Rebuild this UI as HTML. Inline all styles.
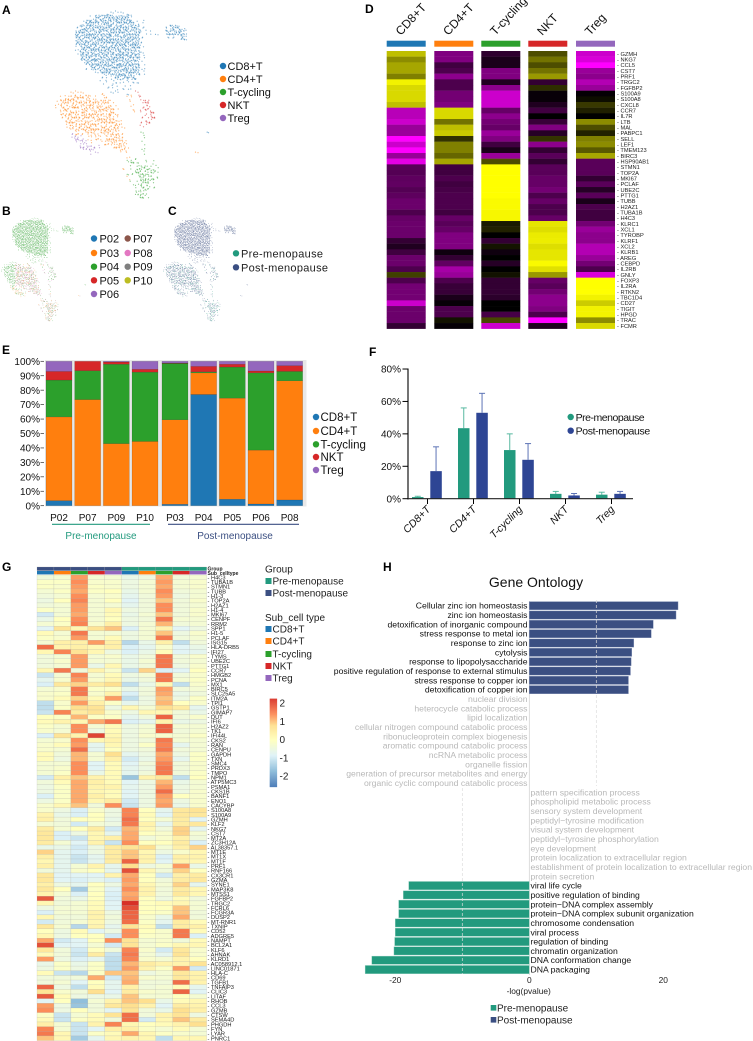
<!DOCTYPE html>
<html lang="en">
<head>
<meta charset="utf-8">
<title>T cell atlas figure</title>
<style>
html,body{margin:0;padding:0;background:#fff;}
body{width:753px;height:1041px;overflow:hidden;}
svg{display:block;font-family:"Liberation Sans",Arial,sans-serif;filter:blur(.3px);}
.pl{font-size:12px;font-weight:bold;fill:#000;}
</style>
</head>
<body>
<svg id="fig" xmlns="http://www.w3.org/2000/svg" width="753" height="1041" viewBox="0 0 753 1041">
<rect width="753" height="1041" fill="#fff"/>

<text class="pl" x="2" y="14">A</text>
<text class="pl" x="2" y="215">B</text>
<text class="pl" x="168" y="215">C</text>
<text class="pl" x="365" y="13">D</text>
<text class="pl" x="2" y="354">E</text>
<text class="pl" x="369" y="356">F</text>
<text class="pl" x="2" y="571">G</text>
<text class="pl" x="383" y="571">H</text>

<g id="umapA"></g>
<g id="umapB"></g>
<g id="umapC"></g>

<g font-size="11" fill="#111">
<g><circle cx="223" cy="66" r="3.2" fill="#1f77b4"/><text x="227.5" y="70">CD8+T</text></g>
<g><circle cx="223" cy="79" r="3.2" fill="#ff7f0e"/><text x="227.5" y="83">CD4+T</text></g>
<g><circle cx="223" cy="92" r="3.2" fill="#2ca02c"/><text x="227.5" y="96">T-cycling</text></g>
<g><circle cx="223" cy="105" r="3.2" fill="#d62728"/><text x="227.5" y="109">NKT</text></g>
<g><circle cx="223" cy="118" r="3.2" fill="#9467bd"/><text x="227.5" y="122">Treg</text></g>
</g>

<g font-size="11" fill="#111">
<g><circle cx="94" cy="238.5" r="3.2" fill="#1f77b4"/><text x="99.5" y="242.5">P02</text></g>
<g><circle cx="94" cy="253" r="3.2" fill="#ff7f0e"/><text x="99.5" y="257">P03</text></g>
<g><circle cx="94" cy="266.7" r="3.2" fill="#2ca02c"/><text x="99.5" y="270.7">P04</text></g>
<g><circle cx="94" cy="280.3" r="3.2" fill="#d62728"/><text x="99.5" y="284.3">P05</text></g>
<g><circle cx="94" cy="294" r="3.2" fill="#9467bd"/><text x="99.5" y="298">P06</text></g>
<g><circle cx="127.7" cy="238.5" r="3.2" fill="#8c564b"/><text x="133" y="242.5">P07</text></g>
<g><circle cx="127.7" cy="253" r="3.2" fill="#e377c2"/><text x="133" y="257">P08</text></g>
<g><circle cx="127.7" cy="266.7" r="3.2" fill="#7f7f7f"/><text x="133" y="270.7">P09</text></g>
<g><circle cx="127.7" cy="280.3" r="3.2" fill="#bcbd22"/><text x="133" y="284.3">P10</text></g>
</g>

<g font-size="11" fill="#222">
<g><circle cx="236" cy="253.3" r="3.2" fill="#229a7e"/><text x="241" y="257.3" textLength="82">Pre-menopause</text></g>
<g><circle cx="236" cy="267.3" r="3.2" fill="#3b4f82"/><text x="241" y="271.3" textLength="87">Post-menopause</text></g>
</g>

<g id="heatD"></g>
<g id="stackE"></g>

<g font-size="11.5" fill="#111">
<g><circle cx="316" cy="417" r="3.2" fill="#1f77b4"/><text x="320.5" y="421">CD8+T</text></g>
<g><circle cx="316" cy="431" r="3.2" fill="#ff7f0e"/><text x="320.5" y="435">CD4+T</text></g>
<g><circle cx="316" cy="444.3" r="3.2" fill="#2ca02c"/><text x="320.5" y="448.3">T-cycling</text></g>
<g><circle cx="316" cy="457" r="3.2" fill="#d62728"/><text x="320.5" y="461">NKT</text></g>
<g><circle cx="316" cy="470" r="3.2" fill="#9467bd"/><text x="320.5" y="474">Treg</text></g>
</g>

<line x1="52" y1="524.3" x2="150" y2="524.3" stroke="#229a7e" stroke-width="1.2"/>
<line x1="168" y1="524.3" x2="299" y2="524.3" stroke="#3b4f82" stroke-width="1.2"/>
<text x="101" y="539" text-anchor="middle" font-size="10" fill="#229a7e">Pre-menopause</text>
<text x="235" y="539" text-anchor="middle" font-size="10" fill="#3b4f82">Post-menopause</text>

<g id="barF"></g>

<g font-size="10.5" fill="#111">
<g><circle cx="570.7" cy="417" r="3.2" fill="#229a7e"/><text x="575.6" y="421" textLength="69">Pre-menopause</text></g>
<g><circle cx="570.7" cy="430.7" r="3.2" fill="#2e4594"/><text x="575.6" y="434.7" textLength="74.6">Post-menopause</text></g>
</g>

<g id="heatG"></g>

<g font-size="10" fill="#222">
<text x="265" y="572.5">Group</text>
<g><rect x="265.5" y="578" width="6" height="6" fill="#229a7e"/><text x="272.5" y="584.5">Pre-menopause</text></g>
<g><rect x="265.5" y="590" width="6" height="6" fill="#3b4f82"/><text x="272.5" y="596.5">Post-menopause</text></g>
<text x="265" y="621">Sub_cell type</text>
<g><rect x="265.5" y="626" width="6" height="6" fill="#1f77b4"/><text x="272.5" y="632.5">CD8+T</text></g>
<g><rect x="265.5" y="638" width="6" height="6" fill="#ff7f0e"/><text x="272.5" y="644.5">CD4+T</text></g>
<g><rect x="265.5" y="651" width="6" height="6" fill="#2ca02c"/><text x="272.5" y="657.5">T-cycling</text></g>
<g><rect x="265.5" y="663" width="6" height="6" fill="#d62728"/><text x="272.5" y="669.5">NKT</text></g>
<g><rect x="265.5" y="675" width="6" height="6" fill="#9467bd"/><text x="272.5" y="681.5">Treg</text></g>
</g>
<g id="colorbar"></g>

<g id="goChart">
<text x="536" y="587" text-anchor="middle" font-size="14" fill="#111">Gene Ontology</text>
</g>
<g font-size="10" fill="#222">
<g><rect x="490.7" y="1005" width="5.6" height="5.6" fill="#229a7e"/><text x="497" y="1011.5">Pre-menopause</text></g>
<g><rect x="490.7" y="1017" width="5.6" height="5.6" fill="#3b4f82"/><text x="497" y="1023.5">Post-menopause</text></g>
</g>
</svg>

<script>
/* ---------- UMAP density: one char per cell.
   Upper case = dense, lower case = sparse. b=CD8 o=CD4 g=T-cycling r=NKT p=Treg */
const umapDensityRows = [
"..........bbbbb............",
".......bBBBBBBBb...........",
".....bBBBBBBBBBBbb.........",
"....bBBBBBBBBBBBBb....bBBb.",
"....BBBBBBBBBBBBBbbbb.BBBBb",
"....BBBBBBBBBBBBBb....bb.Bb",
"....BBBBBBBBBBBBBb.........",
"....bBBBBBBBBBBBBb.........",
"....bBBBBBBBBBBBBb.........",
".....BBBBBBBBBBBBb.........",
".....bBBBBBBBBBBBb.........",
"......bBBBBBBBBBBb.........",
"........bBBBBBBBBb.........",
".........bbbBBBBb..........",
".........bbbbbbbb..........",
"..........bbbbbb...........",
"...ooo...o.bb.b.r..........",
".oOOOOOoooo...oorr.........",
"oOOOOOOOOOOo...o.rR........",
"oOOOOOOOOOOOo..o.rR........",
".OOOOOOOOOOOo..o.rrR.......",
".oOOOOOOOOOOo....rrR.......",
"..OOOOOOOOOOOo...rR........",
"..oOOOOOOOOOOo...r.........",
"...pOoOOoOOOOo...g............b",
"...pPpooOoOOOo...g.........",
"....pPpo.oOOOOo..g.........",
".....PPPp..oOOo..g.........",
".......pp....oo..g..........o",
"..............o.g..........",
"..............gGg.gg.......",
".............o.gGGGgg......",
"..............ggGGGGg......",
"..............o.gGGGg......",
"...............ggGGg.......",
"................gGGg.......",
"................GGg........",
".................Gg........"
];
const clusterColors = {b:"#1f77b4",o:"#ff7f0e",g:"#2ca02c",r:"#d62728",p:"#9467bd"};
const denseCounts = {b:10,o:7,g:6,r:7,p:7};
const patientMix = {b:["#2ca02c"],o:["#e377c2","#2ca02c","#ff7f0e","#8c564b","#2ca02c","#e377c2"],g:["#ff7f0e","#7f7f7f","#8c564b","#2ca02c"],r:["#2ca02c","#2ca02c","#e377c2"],p:["#2ca02c","#ff7f0e"]};
const menopauseMix = {b:["#3b4f82"],o:["#3b4f82","#3b4f82","#229a7e","#3b4f82"],g:["#3b4f82","#229a7e"],r:["#3b4f82","#3b4f82","#229a7e"],p:["#3b4f82","#3b4f82","#3b4f82","#229a7e"]};

/* ---------- Panel D marker heatmap ---------- */
const dGenes = ["GZMH","NKG7","CCL5","CST7","PRF1","TRGC2","FGFBP2","S100A9","S100A8","CXCL8","CCR7","IL7R","LTB","MAL","PABPC1","SELL","LEF1","TMEM123","BIRC3","HSP90AB1","STMN1","TOP2A","MKI67","PCLAF","UBE2C","PTTG1","TUBB","H2AZ1","TUBA1B","H4C3","KLRC1","XCL1","TYROBP","KLRF1","XCL2","KLRB1","AREG","CEBPD","IL2RB","GNLY","FOXP3","IL2RA","RTKN2","TBC1D4","CD27","TIGIT","HPGD","TRAC","FCMR"];
const dCd8 = [.75,.55,.65,.65,.5,.95,.85,.85,.85,.75,-.72,-.72,-.8,-.6,-.6,-1,-.8,-1,-.6,-.9,-.35,-.33,-.37,-.38,-.33,-.37,-.42,-.42,-.3,-.4,-.42,-.42,-.42,-.2,-.12,-.25,-.42,-.42,-.3,.25,-.3,-.45,-.45,-.45,-.8,-.42,-.42,-.42,-.2];
const dCd4 = [-.5,-.5,-.25,-.3,-.55,-.3,-.3,-.45,-.45,-.5,.85,.85,.45,.75,.8,.2,.5,.5,.4,.65,-.25,-.25,-.3,-.25,-.28,-.3,-.3,-.3,-.25,-.4,-.35,-.4,-.5,-.5,-.5,-.06,-.2,-.38,-.65,-.6,-.3,-.22,-.22,-.1,-.03,-.3,-.3,.07,-.02];
const dCyc = [-.18,-.1,-.1,-.5,-.5,-.12,-.55,-.8,-.8,-.8,-.4,-.55,-.45,-.4,-.6,-.5,-.25,-.1,-.6,.3,1,1,1,1,1,1,.98,.98,.97,.97,.1,.13,0,-.2,.08,-.06,0,-.15,0,.07,-.2,-.2,-.2,-.17,0,0,-.28,.28,-.8];
const dNkt = [.3,.45,.3,.45,.6,-.2,.18,-.03,-.03,-.12,-.25,0,-.22,-.5,-.15,.2,-.55,-.2,-.35,-.2,-.35,-.35,-.4,-.4,-.45,-.3,-.4,-.3,-.3,-.4,.9,.87,.92,.93,.87,.9,.9,.98,.88,.6,-.4,-.35,-.45,-.55,-.55,-.5,-.3,-1,-.12];
const dTreg = [-.8,-.85,-1,-.6,-.55,-.7,-.6,-.02,.05,.22,.12,0,.55,.3,.13,.5,.55,.35,.65,-.35,-.35,-.35,-.2,-.35,-.15,-.35,-.1,-.3,-.25,-.25,-.45,-.6,-.55,-.55,-.7,-.7,-.6,-.45,-.3,-.85,1,1,1,.95,.8,.95,.95,.55,.85];
const dCellTypes = ["CD8+T","CD4+T","T-cycling","NKT","Treg"];
const cellTypeColors = ["#1f77b4","#ff7f0e","#2ca02c","#d62728","#9467bd"];

/* ---------- Panel E composition (percent, bottom to top) ---------- */
const ePatients = ["P02","P07","P09","P10","P03","P04","P05","P06","P08"];
const eCd8 = [3.5,0,0,0,1,77,4.5,1.2,4];
const eCd4 = [58,73.5,43,44.5,58.5,15,70,37.3,82.5];
const eCyc = [25.5,20,55,48,39,.7,21.5,53.5,6.5];
const eNkt = [6,6.5,1.5,2,.3,3.8,2,1.3,4];
const eTreg = [7,0,.5,5.5,1.2,3.5,2,6.7,3];
const eTicks = ["0%","10%","20%","30%","40%","50%","60%","70%","80%","90%","100%"];
const eTickValues = [0,10,20,30,40,50,60,70,80,90,100];

/* ---------- Panel F proportions ---------- */
const fCategories = ["CD8+T","CD4+T","T-cycling","NKT","Treg"];
const fPre = [1,43.5,30,3,2.5];
const fPost = [17,53,24,2,3];
const fPreErrTop = [1.5,56,40,4.5,4];
const fPostErrTop = [32,65,34,3.2,4.5];
const fTickValues = [0,20,40,60,80];
const fTicks = ["0%","20%","40%","60%","80%"];

/* ---------- Panel G heatmap ---------- */
const gColumnGroups = ["post","post","post","post","post","pre","pre","pre","pre","pre"];
const gColumnTypes = [0,1,2,3,4,0,1,2,3,4];
const gGenes = ["H4C3","TUBA1B","STMN1","TUBB","H1-3","TOP2A","H2AZ1","H1-4","MKI67","CENPF","RRM2","SPP1","H1-5","PCLAF","ISG15","HLA-DRB5","IFI27","TYMS","UBE2C","PTTG1","CCR7","HMGB2","PCNA","MX1","BIRC5","SLC25A5","ITM2A","TPI1","GSTP1","GIMAP7","DUT","IFI6","H2AZ2","TK1","IFI44L","CKS2","RAN","CENPU","GAPDH","TXN","SMC4","PRDX3","TMPO","NPM1","ATP5MC3","PSMA1","CKS1B","BANF1","ENO1","CACYBP","S100A8","S100A9","GZMH","KLF2","NKG7","CST7","MT2A","ZC3H12A","AL38357.1","MT1E","MT1X","MT1F","PRF1","RNF166","CX3CR1","GZMA","SYNE1","MAP3K8","MTSS1","FGFBP2","TRGC2","FCRL6","FCGR3A","DUSP2","MT-RNR1","TXNIP","CD52","ADGRE5","NAMPT","BCL2A1","KLF6","AHNAK","KLRD1","AC058912.1","LINC01871","HLA-C","CD69","TGFB1","TNFAIP3","CLIC3","LITAF","RHOB","CCL3","GZMB","CTSW","SEMA4D","PHGDH","FYN","LYAR","PNRC1"];
const gValues = [
[-.4,-.3,1.3,-.3,-.3,-.6,-.5,1.2,-.4,-.3],
[-.1,-.1,1.4,-.2,-.2,-.5,-.3,1.3,-.3,-.2],
[-.1,-.2,1.3,-.1,-.2,-.5,-.3,1.2,-.3,-.2],
[-.3,-.1,1.2,-.1,.0,-.6,-.3,1.4,-.4,-.3],
[-.4,-.3,1.4,-.3,-.2,-.7,-.4,1.3,-.5,-.3],
[-.5,.0,1.5,-.3,.0,-.8,-.4,1.0,-.4,-.2],
[-.4,-.3,1.3,-.3,-.3,-.7,-.4,1.4,-.4,-.3],
[-.1,-.3,1.3,-.3,.2,-.5,-.4,1.4,-.4,-.2],
[-1,-.3,1.2,-.3,.1,-.6,-.3,1.0,-.4,-.2],
[-.6,.0,1.4,-.3,0,-.5,-.4,1.6,-.3,-.3],
[-.3,-.1,1.5,-.2,.4,-.5,-.3,1.1,-.4,-.3],
[-.8,.7,.2,.7,1,-.9,-.3,.3,-.8,-.5],
[.1,-.3,1.6,-.3,-.3,-.5,-.3,1.0,-.5,-.2],
[-.1,-.2,1.3,-.3,.1,-.5,-.3,1.6,-.4,-.3],
[-.3,.4,.4,1.3,.4,-1.3,-.6,.4,-1.2,-.4],
[1.7,.3,.4,.2,.4,-.9,-.7,-.2,-.8,-.6],
[.2,1.5,.7,.2,-.5,-.9,-.6,.1,-.8,-.7],
[-.4,-.3,1.3,-.3,-.2,-.6,-.4,1.6,-.4,-.2],
[-.4,-.2,1.3,-.3,-.3,-.6,-.3,1.6,-.4,-.3],
[-.4,-.3,1.3,-.6,.2,-.6,-.4,1.6,-.5,-.2],
[.2,1.6,-.4,.3,-.2,-1.1,.9,-.9,-.8,.0],
[-1.1,-.3,1.5,-.3,.1,-.5,-.3,1.6,-.4,-.2],
[-.7,-.2,1.3,-.2,.2,-.6,-.4,1.6,-.3,-.1],
[-.9,.6,.9,.5,.8,-1.2,-.6,.2,-1.2,-.2],
[-.3,-.2,1.6,-.1,-.1,-.6,-.4,1.3,-.4,-.3],
[-.2,-.1,1.6,-.2,.3,-.9,-.4,1.2,-.6,-.4],
[-.2,.1,.9,.1,1.3,-1.2,-.5,1,-.5,-.1],
[-1.2,-.2,1.3,.4,-.1,-.7,-.5,1.1,0,-.2],
[-1.2,-.1,.8,.7,-.5,.2,-.3,.8,.5,-.7],
[-1.1,1.5,.5,.7,-.2,-.5,.2,.2,-.4,-.6],
[.0,-.1,1.1,-.1,-.1,-.7,-.4,1.8,-.4,-.2],
[.1,.3,.2,1.2,1.6,-.9,-.7,.3,-.6,-.5],
[-.1,-.3,1.4,-.3,.1,-.5,-.3,1.8,-.3,-.3],
[-.2,-.3,1.4,-.5,.1,-.5,-.3,1.8,-.4,-.3],
[-.9,.7,.3,2.1,.2,-.5,-.2,-.2,-.3,-.1],
[-.3,-.2,1.4,.2,.3,-.5,-.4,1.6,-.3,-.3],
[-.2,.1,1.3,-.7,.2,-.5,-.1,1.5,-.7,-.3],
[-.2,-.3,1.7,-.7,.0,-.5,-.4,1.6,-.4,-.3],
[.1,-.4,1.1,-.3,.8,-.7,-.5,1.2,-.5,-.1],
[.1,-.5,1.1,-.3,.4,-1,-.6,1.3,-.7,-.1],
[-.3,-.3,1.4,-.8,.1,-.8,-.4,1.5,-.4,-.2],
[-.3,-.2,1.4,-.8,.1,-.7,-.5,1.6,-.4,-.2],
[-.3,-.1,1.4,-.6,.1,-.7,-.4,1.6,-.4,-.1],
[-1,.4,1.0,.3,.1,-1.6,.3,.6,-1.2,.0],
[-.4,.1,1.2,.4,.1,-.8,-.5,1.1,-.6,-.3],
[-.5,-.1,1.2,.3,.3,-.7,-.5,1.3,-.5,-.3],
[-.5,-.1,1.2,.2,.1,-.8,-.5,1.7,-.5,-.2],
[-.9,-.1,1.2,.4,.1,-.8,-.5,1.3,.0,-.2],
[-.5,-.1,1.2,.2,.5,-1,-.5,1.2,-.5,-.2],
[-.2,.2,1.0,-.4,1.4,-1.1,-.5,1.3,-.6,-.2],
[-.2,-.5,-.9,-.2,-.5,1.5,.0,-.7,.6,.7],
[.3,-.6,-.9,.0,-.5,1.5,.1,-.8,.6,.6],
[.4,-.4,.0,.0,-.6,1.7,.0,-.3,.5,-.8],
[-.3,-.4,-1,-.3,-.5,1.6,.3,-.7,.5,.6],
[.5,-.3,.0,.5,-1.0,1.1,.2,-.4,.9,-.7],
[.6,-.9,-.5,.2,-.7,1.2,.0,-.2,.9,-.3],
[.6,-.9,-1.1,.2,.4,1.2,-.4,-.2,.4,-.4],
[.5,-.3,-.8,.3,-1.1,1.4,.0,0,.5,-.9],
[-.6,-.6,-1,-.5,.5,.7,.8,-.3,.4,.9],
[.9,-.7,-.9,-.5,.5,1.0,.2,-.5,-.2,.2],
[.4,-.7,-1.1,-.7,.5,1.0,.3,-.9,.4,.3],
[.2,-.7,-1.1,-.7,.5,1.8,.3,-.8,.3,.2],
[.4,-.7,-.3,.3,-.7,.8,-.5,-.3,1.3,-.6],
[-.4,-.7,-.2,.0,-.7,2.0,.2,-.4,.9,.0],
[.6,-.8,-.8,-.8,.3,1.2,.0,-1,.4,.5],
[.6,-.8,-.9,-.7,-.9,1.3,.0,-.4,.5,.6],
[.4,-.5,-.7,.0,-.5,1.2,.2,-.3,.9,-.7],
[.6,.0,-1.5,-.1,-.8,1.4,.3,-.4,.5,.2],
[.3,-.3,-.9,.0,-.9,1.2,.3,-.4,.6,.2],
[1.9,-.4,-.6,.0,-.9,1.3,.0,-.5,.1,-.4],
[.2,-.4,-.3,.1,-.8,2.3,.0,.1,.2,-.3],
[-.5,-.3,-.3,.1,-.8,2.0,.0,.0,1.0,-.3],
[-.9,-.3,-.3,.3,-.5,1.8,.0,-.1,1.0,-.4],
[.2,-.4,-.4,.3,-.4,1.8,-.2,-.6,1.2,-.4],
[-1.0,-.4,-.3,.2,-.5,1.7,-.1,-.7,.5,.1],
[.6,-.3,-1.3,.3,-.7,.7,.1,-1.2,.5,.4],
[.0,-.5,.1,-.8,-.5,1.4,.0,-.2,1.6,.1],
[.2,-.5,.0,.0,-1.0,1.4,-.1,-.2,1.6,-.9],
[1.2,-1.0,-.8,.0,1.4,.7,-.3,-.2,-.4,.1],
[2.0,-.8,-.8,-.3,-1.0,.7,-.3,-.1,.2,.2],
[.6,-.4,-1,.0,-.4,1.5,-.2,-1,.6,-.2],
[.1,-.4,-1.1,.5,-1.1,1.6,-.3,-.7,.7,-.2],
[1.3,-.5,-.9,-.7,-1.2,1.5,-.2,-.3,.3,.0],
[-.6,-.1,-.6,-.1,-1.2,1.1,.5,.3,.3,.7],
[-.5,-.1,-.5,-.1,-1.2,1.3,.3,-.1,1.3,-1],
[.1,-1.1,-1.3,-.1,1.0,1.0,-.5,-.3,.6,.3],
[-.4,-.4,-.4,1.2,-1,1.1,-.2,-.3,.6,.3],
[-.4,-.3,-.8,.0,-.7,1.2,-.4,-.4,1.7,.3],
[1.8,-.5,-1.2,.1,-.7,.4,-.4,-.3,.1,-.7],
[.7,-.2,-.4,.8,-.8,.5,-.2,-.3,1.8,-.8],
[1.9,.1,-.5,-.5,-.6,1.0,-.3,-.3,0,-.3],
[-.8,.0,-1.7,-.3,.3,1.0,.8,-.6,.1,.2],
[1.3,-.5,-1.6,-.4,.6,.8,.3,-.8,.5,.3],
[1.4,-.5,.0,-.4,-.8,.7,-.4,-.6,.8,.4],
[-.1,-1.1,-.3,.1,.7,1.7,-.4,.3,.7,-.5],
[.1,-1.1,-.1,.1,-.4,1.7,-1,.2,1.0,.5],
[.4,-.3,-1.1,.3,1.5,.2,.0,.1,.3,.8],
[1.5,-.3,-1.1,-.8,.4,.4,-.1,-.3,.1,-.3],
[1.6,.2,-1.1,-.1,.1,1.2,.2,-.1,-.2,-.3],
[1.0,.2,-1.5,-.7,.2,.3,.2,-1.2,.2,.2]
];
const colorStopValues = [-2.7,-1.7,-.85,0,.8,1.4,2.3];
const colorStopHex = ["#4575b4","#91bfdb","#e0f3f8","#ffffbf","#fee090","#fc8d59","#d73027"];
const colorbarTicks = [2,1,0,-1,-2];

/* ---------- Panel H gene ontology ---------- */
const goPostTerms = ["Cellular zinc ion homeostasis","zinc ion homeostasis","detoxification of inorganic compound","stress response to metal ion","response to zinc ion","cytolysis","response to lipopolysaccharide","positive regulation of response to external stimulus","stress response to copper ion","detoxification of copper ion"];
const goPostValues = [22.2,21.9,18.5,18.2,15.6,15.3,15.2,15.1,14.8,14.8];
const goGreyLeftTerms = ["nuclear division","heterocycle catabolic process","lipid localization","cellular nitrogen compound catabolic process","ribonucleoprotein complex biogenesis","aromatic compound catabolic process","ncRNA metabolic process","organelle fission","generation of precursor metabolites and energy","organic cyclic compound catabolic process"];
const goGreyRightTerms = ["pattern specification process","phospholipid metabolic process","sensory system development","peptidyl\u2212tyrosine modification","visual system development","peptidyl\u2212tyrosine phosphorylation","eye development","protein localization to extracellular region","establishment of protein localization to extracellular region","protein secretion"];
const goPreTerms = ["viral life cycle","positive regulation of binding","protein\u2212DNA complex assembly","protein\u2212DNA complex subunit organization","chromosome condensation","viral process","regulation of binding","chromatin organization","DNA conformation change","DNA packaging"];
const goPreValues = [18,18.8,19.5,19.5,20,20,20.1,20.2,23.5,24.5];
const goAxisTicks = [-20,0,20];

/* ---------- helpers ---------- */
const NS = "http://www.w3.org/2000/svg";
function mk(parent, tag, attrs) {
  const el = document.createElementNS(NS, tag);
  for (const k in attrs) el.setAttribute(k, attrs[k]);
  parent.appendChild(el);
  return el;
}
function label(parent, x, y, str, attrs) {
  const el = mk(parent, "text", Object.assign({x: x, y: y}, attrs || {}));
  el.textContent = str;
  return el;
}

/* ---------- UMAP panels ---------- */
const subX = [.5,3.5,2,4.5,1,3,.2,2.6,4,1.5,3.8,.8,2.2,4.7,1.2,3.2];
const subY = [1,3.7,.4,2.2,4.4,1.8,2.9,4.8,.2,3,1.2,4,2.1,4.2,.7,2.7];
function drawUmap(group, sx, ox, sy, oy, r, opacity, colorFor) {
  umapDensityRows.forEach(function (row, ri) {
    for (let ci = 0; ci < row.length; ci++) {
      const ch = row[ci];
      if (ch === ".") continue;
      const key = ch.toLowerCase();
      const count = ch === key ? 2 : denseCounts[key];
      for (let k = 0; k < count; k++) {
        const idx = (k * 5 + ri * ri * 3 + ci * ci * 7 + ri * ci) % 16;
        const jdx = (k * 3 + ci * ci + ri * 5 + ri * ri * ci) % 16;
        const ux = 55 + ci * 5 + subX[idx];
        const uy = 10 + ri * 5 + subY[jdx];
        const el = mk(group, "circle", {cx: (ux * sx + ox).toFixed(2), cy: (uy * sy + oy).toFixed(2), r: r, fill: colorFor(key, ci, ri, k), opacity: opacity});
        
        
      }
    }
  });
}
drawUmap(document.getElementById("umapA"), 1, 0, 1, 0, .6, .58, function (key) { return clusterColors[key]; });
drawUmap(document.getElementById("umapB"), .55, -29, .55, 212, .38, .5, function (key, ci, ri, k) {
  if (key === "o" && ci < 5) return "#2ca02c";
  const pal = patientMix[key];
  return pal[(k + ri + ci) % pal.length];
});
drawUmap(document.getElementById("umapC"), .55, 133, .55, 212, .38, .55, function (key, ci, ri, k) {
  const pal = menopauseMix[key];
  return pal[(k + ri * 2 + ci) % pal.length];
});

/* ---------- Panel D ---------- */
(function () {
  const g = document.getElementById("heatD");
  const columns = [dCd8, dCd4, dCyc, dNkt, dTreg];
  const colX = [386.7, 434.3, 481.3, 528.3, 576];
  const colW = 39;
  const top = 51, rowH = (328.7 - 51) / dGenes.length;
  function purpleYellow(v) {
    const a = Math.round(Math.min(1, Math.abs(v)) * 255);
    return v >= 0 ? "rgb(" + a + "," + a + ",0)" : "rgb(" + a + ",0," + a + ")";
  }
  columns.forEach(function (vals, c) {
    const bar = mk(g, "rect", {x: colX[c], y: 40.7, width: colW, height: 6, fill: cellTypeColors[c]});
    
    
    const head = label(g, colX[c] + 14, 36, dCellTypes[c], {"font-size": 12, fill: "#111", transform: "rotate(-47 " + (colX[c] + 14) + " 36)"});
    
    
    vals.forEach(function (v, r) {
      const cell = mk(g, "rect", {x: colX[c], y: (top + r * rowH).toFixed(2), width: colW, height: (rowH + .2).toFixed(2), fill: purpleYellow(v)});
      
      
    });
  });
  dGenes.forEach(function (name, r) {
    const t = label(g, 617, (top + (r + .5) * rowH + 2).toFixed(2), "- " + name, {"font-size": 5.7, fill: "#222"});
    
    
  });
})();

/* ---------- Panel E ---------- */
(function () {
  const g = document.getElementById("stackE");
  const yE = function (v) { return 505.7 - v * 1.444; };
  const barX = function (i) { return 46 + i * 28.67 + (i > 3 ? 1.3 : 0); };
  const barW = 26;
  const bg = mk(g, "rect", {x: 45, y: 360, width: 261.5, height: 146.5, fill: "#e8e8e8"});
  
  
  const series = [eCd8, eCd4, eCyc, eNkt, eTreg];
  ePatients.forEach(function (p, i) {
    let base = 0;
    series.forEach(function (vals, s) {
      const v = vals[i];
      if (v > 0) {
        const seg = mk(g, "rect", {x: barX(i).toFixed(2), y: yE(base + v).toFixed(2), width: barW, height: (v * 1.444).toFixed(2), fill: cellTypeColors[s], stroke: "rgba(0,0,0,.28)", "stroke-width": .4});
        
        
      }
      base += v;
    });
    const t = label(g, (barX(i) + barW / 2).toFixed(2), 521, p, {"font-size": 10, "text-anchor": "middle", fill: "#111"});
    
    
  });
  eTickValues.forEach(function (v, i) {
    const y = yE(v);
    const t = label(g, 40, (y + 3.6).toFixed(2), eTicks[i], {"font-size": 10, "text-anchor": "end", fill: "#111"});
    
    
    const tick = mk(g, "line", {x1: 40.5, x2: 44, y1: y.toFixed(2), y2: y.toFixed(2), stroke: "#333", "stroke-width": .7});
    
    
  });
})();

/* ---------- Panel F ---------- */
(function () {
  const g = document.getElementById("barF");
  const yF = function (v) { return 498.7 - v * 1.621; };
  const xPre = function (i) { return 412 + i * 46; };
  const xPost = function (i) { return 430.3 + i * 46; };
  const bw = 11.5;
  function bars(vals, tops, xf, fill, err) {
    vals.forEach(function (v, i) {
      const cx = xf(i) + bw / 2;
      const stem = mk(g, "line", {x1: cx, x2: cx, y1: yF(tops[i]).toFixed(2), y2: yF(v).toFixed(2), stroke: err, "stroke-width": 1});
      
      
      const cap = mk(g, "line", {x1: cx - 3, x2: cx + 3, y1: yF(tops[i]).toFixed(2), y2: yF(tops[i]).toFixed(2), stroke: err, "stroke-width": 1});
      
      
      const b = mk(g, "rect", {x: xf(i).toFixed(2), y: yF(v).toFixed(2), width: bw, height: (v * 1.621).toFixed(2), fill: fill});
      
      
    });
  }
  bars(fPre, fPreErrTop, xPre, "#229a7e", "#58b9a1");
  bars(fPost, fPostErrTop, xPost, "#2e4594", "#5d74b6");
  const yAxis = mk(g, "line", {x1: 408, x2: 408, y1: 368.5, y2: 499.5, stroke: "#000", "stroke-width": 1.1});
  
  
  const xAxis = mk(g, "line", {x1: 408, x2: 633, y1: 498.7, y2: 498.7, stroke: "#222", "stroke-width": 1.2});
  
  
  fTickValues.forEach(function (v, i) {
    const y = yF(v);
    const tick = mk(g, "line", {x1: 402.5, x2: 408, y1: y.toFixed(2), y2: y.toFixed(2), stroke: "#000", "stroke-width": 1});
    
    
    const t = label(g, 401, (y + 3.6).toFixed(2), fTicks[i], {"font-size": 10, "text-anchor": "end", fill: "#111"});
    
    
  });
  fCategories.forEach(function (c, i) {
    const x = 427.5 + i * 46;
    const tick = mk(g, "line", {x1: x, x2: x, y1: 498.7, y2: 504, stroke: "#000", "stroke-width": 1});
    
    
    const lx = x + 3.5, ly = 510;
    const t = label(g, lx, ly, c, {"font-size": 10.5, "font-style": "italic", "text-anchor": "end", fill: "#111", transform: "rotate(-45 " + lx + " " + ly + ")"});
    
    
  });
})();

/* ---------- Panel G ---------- */
function heatColor(v) {
  const vs = colorStopValues, cs = colorStopHex;
  if (v <= vs[0]) return cs[0];
  for (let i = 1; i < vs.length; i++) {
    if (v <= vs[i]) {
      const t = (v - vs[i - 1]) / (vs[i] - vs[i - 1]);
      const a = parseInt(cs[i - 1].slice(1), 16), b = parseInt(cs[i].slice(1), 16);
      const mix = function (sh) {
        const p = (a >> sh) & 255, q = (b >> sh) & 255;
        return Math.round(p + (q - p) * t);
      };
      return "rgb(" + mix(16) + "," + mix(8) + "," + mix(0) + ")";
    }
  }
  return cs[cs.length - 1];
}
(function () {
  const g = document.getElementById("heatG");
  const x0 = 37, cw = 16.96, top = 575, rowH = (1040.6 - 575) / gGenes.length;
  gColumnGroups.forEach(function (grp, c) {
    const a = mk(g, "rect", {x: (x0 + c * cw).toFixed(2), y: 567, width: cw, height: 3.6, fill: grp === "post" ? "#3b4f82" : "#229a7e", stroke: "#9a9a9a", "stroke-width": .2});
    
    
    const b = mk(g, "rect", {x: (x0 + c * cw).toFixed(2), y: 571, width: cw, height: 3.4, fill: cellTypeColors[gColumnTypes[c]]});
    
    
  });
  gValues.forEach(function (row, r) {
    row.forEach(function (v, c) {
      const cell = mk(g, "rect", {x: (x0 + c * cw).toFixed(2), y: (top + r * rowH).toFixed(2), width: cw, height: rowH.toFixed(2), fill: heatColor(v), stroke: "rgba(165,165,160,.55)", "stroke-width": .3});
      
      
    });
    const t = label(g, 207.5, (top + (r + .5) * rowH + 2).toFixed(2), "- " + gGenes[r], {"font-size": 5.7, fill: "#222"});
    
    
  });
  const gl = label(g, 207.5, 570.5, "Group", {"font-size": 5, "font-weight": "bold", fill: "#222"});
  
  
  const sl = label(g, 207.5, 575, "Sub_celltype", {"font-size": 5, "font-weight": "bold", fill: "#222"});
  
  

  const cb = document.getElementById("colorbar");
  const yC = function (v) { return 739.5 - v * 18.25; };
  for (let k = 0; k < 88; k++) {
    const v = 2.24 - k * (4.84 / 88);
    const seg = mk(cb, "rect", {x: 269.7, y: yC(v).toFixed(2), width: 7.4, height: 1.2, fill: heatColor(v)});
    
    
  }
  colorbarTicks.forEach(function (v) {
    const t = label(cb, 279.5, (yC(v) + 3.5).toFixed(2), String(v), {"font-size": 10, fill: "#222"});
    
    
  });
})();

/* ---------- Panel H ---------- */
(function () {
  const g = document.getElementById("goChart");
  const xGO = function (v) { return 529.3 + v * 6.7; };
  const rowY = function (i) { return 605.7 + i * 9.33; };
  const bh = 8.2;
  const fs = 8.65;
  const zero = mk(g, "line", {x1: xGO(0), x2: xGO(0), y1: 601, y2: 975, stroke: "#d0d0d0", "stroke-width": .7});
  
  
  goPostTerms.forEach(function (term, i) {
    const b = mk(g, "rect", {x: xGO(0).toFixed(2), y: (rowY(i) - bh / 2).toFixed(2), width: (goPostValues[i] * 6.7).toFixed(2), height: bh, fill: "#3b4f82", stroke: "#8c9abb", "stroke-width": .4});
    
    
    const t = label(g, 527.5, (rowY(i) + 3).toFixed(2), term, {"font-size": fs, "text-anchor": "end", fill: "#111"});
    
    
  });
  goGreyLeftTerms.forEach(function (term, i) {
    const t = label(g, 527.5, (rowY(i + 10) + 3).toFixed(2), term, {"font-size": fs, "text-anchor": "end", fill: "#b8b8b8"});
    
    
  });
  goGreyRightTerms.forEach(function (term, i) {
    const t = label(g, 530.5, (rowY(i + 20) + 3).toFixed(2), term, {"font-size": fs, fill: "#b8b8b8"});
    
    
  });
  goPreTerms.forEach(function (term, i) {
    const v = goPreValues[i];
    const b = mk(g, "rect", {x: xGO(-v).toFixed(2), y: (rowY(i + 30) - bh / 2).toFixed(2), width: (v * 6.7).toFixed(2), height: bh, fill: "#229a7e", stroke: "#8ccbb9", "stroke-width": .4});
    
    
    const t = label(g, 530.5, (rowY(i + 30) + 3).toFixed(2), term, {"font-size": fs, fill: "#111"});
    
    
  });
  const gridPos = mk(g, "line", {x1: xGO(10), x2: xGO(10), y1: 600, y2: 786, stroke: "#dcdcdc", "stroke-width": .7, "stroke-dasharray": "3 2"});
  
  
  const gridNeg = mk(g, "line", {x1: xGO(-10), x2: xGO(-10), y1: 788, y2: 974, stroke: "#dcdcdc", "stroke-width": .7, "stroke-dasharray": "3 2"});
  
  
  goAxisTicks.forEach(function (v) {
    const t = label(g, xGO(v).toFixed(2), 983, String(v), {"font-size": 8.4, "text-anchor": "middle", fill: "#222"});
    
    
  });
  const xt = label(g, 528.7, 994, "-log(pvalue)", {"font-size": 8.4, "text-anchor": "middle", fill: "#222"});
  
  
})();
</script>
</body>
</html>
